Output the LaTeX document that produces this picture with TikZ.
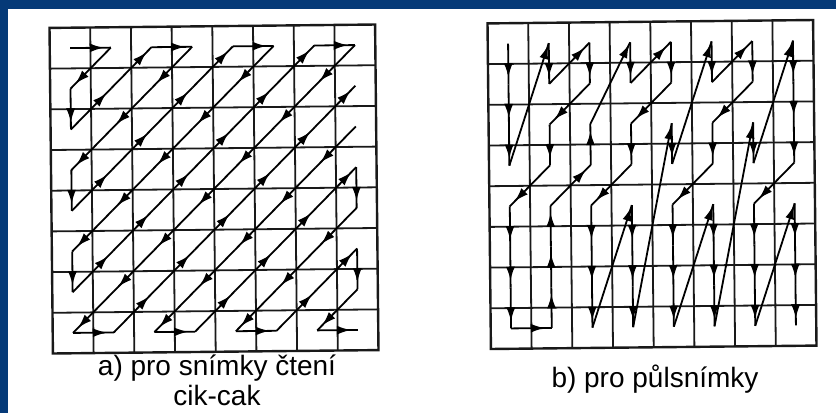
\documentclass[tikz,border=0pt]{standalone}
\usepackage{fontspec}
\setmainfont{Liberation Sans}
\usetikzlibrary{arrows.meta,decorations.markings}
\definecolor{slideblue}{RGB}{5,58,120}
\tikzset{
  cell/.style={draw=black!90, line width=1.8pt},
  frame/.style={draw=black!90, line width=2.4pt},
  scanline/.style={line width=1.8pt, line join=round},
  scans/.style={scanline, postaction={decorate}, decoration={markings,
    mark=at position -7pt with {\arrow{Latex[length=14pt,width=9pt]}}}},
  scanj/.style={scanline, postaction={decorate}, decoration={markings,
    mark=at position -2pt with {\arrow{Latex[length=14pt,width=9pt]}}}},
  caption/.style={font=\fontsize{28}{33}\selectfont, anchor=base}
}
\newcommand{\cellw}{40.7}

\begin{document}
\begin{tikzpicture}[x=1pt,y=-1pt]
  \useasboundingbox (0,0) rectangle (836,413);
  \fill[slideblue] (0,0) rectangle (836,413);
  \fill[white] (7.5,9) rectangle (836,413);

  % a) zig-zag scan
  \begin{scope}[shift={(214,189)}, rotate=0.6]
    \foreach \i in {-3,...,3} {
      \draw[cell] ({\i*\cellw},{-4*\cellw}) -- ({\i*\cellw},{4*\cellw});
      \draw[cell] ({-4*\cellw},{\i*\cellw}) -- ({4*\cellw},{\i*\cellw});
    }
    \draw[frame] ({-4*\cellw},{-4*\cellw}) rectangle ({4*\cellw},{4*\cellw});
    \foreach \r in {0,...,7}
      \foreach \c in {0,...,7}
        \coordinate (a\r\c) at ({(\c-3.5)*\cellw},{(\r-3.5)*\cellw});
    \foreach \p [remember=\p as \q (initially 00)] in
      {01,10,20,11,02,03,12,21,30,40,31,22,13,04,05,14,23,32,41,50,60,51,
       42,33,24,15,06,07,16,25,34,43,52,61,70,71,62,53,44,35,26,17}
      \draw[scans] (a\q) -- (a\p);
    \foreach \p [remember=\p as \q (initially 27)] in
      {36,45,54,63,72,73,64,55,46,37,47,56,65,74,75,66,57,67,76,77}
      \draw[scans] (a\q) -- (a\p);
  \end{scope}

  % b) alternate scan
  \begin{scope}[shift={(652,184.5)}, rotate=0.6]
    \foreach \i in {-3,...,3} {
      \draw[cell] ({\i*\cellw},{-4*\cellw}) -- ({\i*\cellw},{4*\cellw});
      \draw[cell] ({-4*\cellw},{\i*\cellw}) -- ({4*\cellw},{\i*\cellw});
    }
    \draw[frame] ({-4*\cellw},{-4*\cellw}) rectangle ({4*\cellw},{4*\cellw});
    \foreach \r in {0,...,7}
      \foreach \c in {0,...,7}
        \coordinate (b\r\c) at ({(\c-3.5)*\cellw},{(\r-3.5)*\cellw});
    \foreach \p/\k [remember=\p as \q (initially 00)] in
      {10/s,20/s,30/s,01/j,11/s,02/s,12/s,21/s,31/s,40/s,50/s,60/s,70/s,
       71/s,61/s,51/s,41/s,32/s,22/s,03/j,13/s,04/s,14/s,23/s,33/s,42/s,
       52/s,62/s,72/s,43/j,53/s,63/s,73/s,24/j,34/s,05/j,15/s,06/s,16/s,
       25/s,35/s,44/s,54/s,64/s,74/s,45/j,55/s,65/s,75/s,26/j,36/s,07/j,
       17/s,27/s,37/s,46/s,56/s,66/s,76/s,47/j,57/s,67/s,77/s}
      \draw[scan\k] (b\q) -- (b\p);
  \end{scope}

  \node[caption] (capa) at (217,375) {a) pro snímky čtení};
  \node[caption] (capacont) at (217,405) {cik-cak};
  \node[caption] (capb) at (655,387) {b) pro půlsnímky};
\end{tikzpicture}
\end{document}
